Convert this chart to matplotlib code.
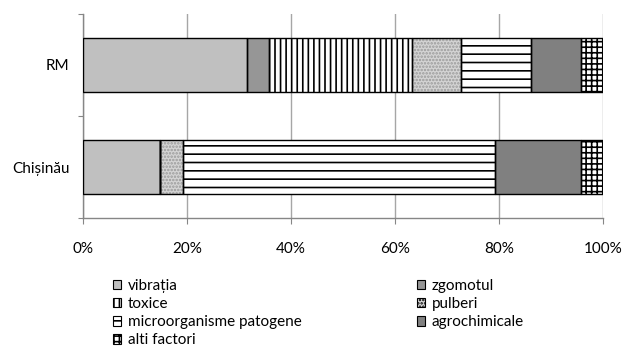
import matplotlib
matplotlib.use("Agg")
import matplotlib.pyplot as plt
from matplotlib.patches import Patch
import numpy as np

plt.rcParams['font.family'] = ['Lato', 'DejaVu Sans']
plt.rcParams['hatch.linewidth'] = 1.2

regions = ["Chișinău", "RM"]
factors = ["vibrația", "zgomotul", "toxice", "pulberi",
           "microorganisme patogene", "agrochimicale", "alti factori"]
# share of each factor, percent (rows follow `regions`)
shares = {
    "vibrația":                [14.9, 31.5],
    "zgomotul":                [0.0, 4.2],
    "toxice":                  [0.0, 27.6],
    "pulberi":                 [4.3, 9.4],
    "microorganisme patogene": [60.0, 13.4],
    "agrochimicale":           [16.5, 9.6],
    "alti factori":            [4.3, 4.3],
}
x_ticks = [0, 20, 40, 60, 80, 100]

styles = {
    "vibrația":                dict(fc="#c0c0c0", hatch=None, hc="#c0c0c0"),
    "zgomotul":                dict(fc="#969696", hatch=None, hc="#969696"),
    "toxice":                  dict(fc="white", hatch="|||", hc="black"),
    "pulberi":                 dict(fc="#d4d4d4", hatch=".....", hc="#9a9a9a"),
    "microorganisme patogene": dict(fc="white", hatch="--", hc="black"),
    "agrochimicale":           dict(fc="#808080", hatch=None, hc="#808080"),
    "alti factori":            dict(fc="white", hatch="+++", hc="black"),
}
FS = 11

fig = plt.figure(figsize=(6.23, 3.56), dpi=100)
ax = fig.add_axes([0.1327, 0.3876, 0.8357, 0.5731])

y = np.arange(len(regions))
bar_h = 0.53
left = np.zeros(len(regions))
for f in factors:
    vals = np.array(shares[f])
    st = styles[f]
    ax.barh(y, vals, left=left, height=bar_h, color=st["fc"],
            hatch=st["hatch"], edgecolor=st["hc"], linewidth=0, zorder=3)
    ax.barh(y, vals, left=left, height=bar_h, fill=False,
            edgecolor="black", linewidth=1.0, zorder=4)
    left += vals

ax.set_xlim(0, 100)
ax.set_ylim(-0.5, 1.5)
ax.set_xticks(x_ticks)
ax.set_xticklabels([f"{t}%" for t in x_ticks], fontsize=FS)
ax.tick_params(axis="x", direction="out", length=4.3, color="#868686",
               pad=13)
ax.set_yticks([-0.5, 0.5, 1.5])
ax.set_yticklabels([])
ax.tick_params(axis="y", direction="out", length=3.6, color="#868686")
ax.set_yticks(y, minor=True)
ax.set_yticklabels(regions, minor=True, fontsize=FS)
ax.tick_params(axis="y", which="minor", length=0, pad=9.5)

ax.xaxis.grid(True, color="#a6a6a6", linewidth=1, zorder=0)
ax.set_axisbelow(True)
for s in ["top", "right"]:
    ax.spines[s].set_visible(False)
for s in ["left", "bottom"]:
    ax.spines[s].set_color("#868686")
    ax.spines[s].set_linewidth(1)


def legend_handles(names):
    out = []
    for f in names:
        st = styles[f]
        out.append(Patch(facecolor=st["fc"], hatch=st["hatch"],
                         edgecolor="black", linewidth=0.8, label=f))
    return out


legend_kw = dict(loc="upper left", frameon=False, fontsize=FS,
                 handlelength=0.55, handleheight=0.55, handletextpad=0.4,
                 labelspacing=0.27, borderaxespad=0, borderpad=0)
col1 = ["vibrația", "toxice", "microorganisme patogene", "alti factori"]
col2 = ["zgomotul", "pulberi", "agrochimicale"]
# two single-column legends, each placed at its own column position
fig.legend(handles=legend_handles(col1),
           bbox_to_anchor=(113 / 623, 0.216), **legend_kw)
fig.legend(handles=legend_handles(col2),
           bbox_to_anchor=(417 / 623, 0.216), **legend_kw)

fig.savefig("out.png", dpi=100)
